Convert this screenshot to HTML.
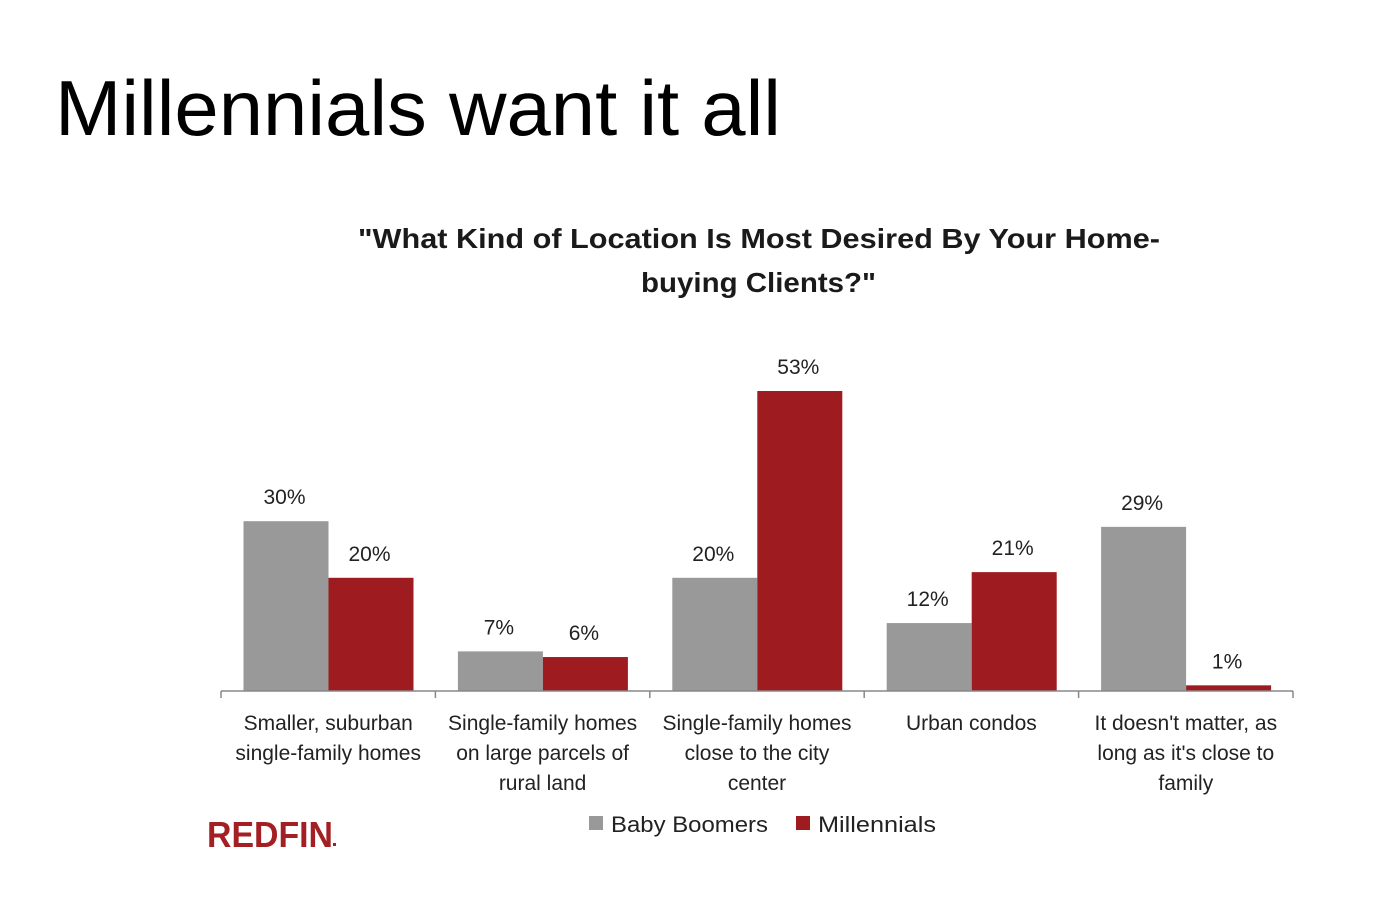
<!DOCTYPE html>
<html><head><meta charset="utf-8"><style>
body{margin:0;background:#fff;width:1391px;height:910px;overflow:hidden;font-family:"Liberation Sans",sans-serif}
svg{position:absolute;left:0;top:0}
</style></head><body>
<svg id="c" width="1391" height="910">
<text x="55" y="135" font-size="78" fill="#000" textLength="726" lengthAdjust="spacingAndGlyphs">Millennials want it all</text>
<text x="358" y="248" font-size="28" font-weight="bold" fill="#1a1a1a" textLength="802" lengthAdjust="spacingAndGlyphs">"What Kind of Location Is Most Desired By Your Home-</text>
<text x="641" y="292" font-size="28" font-weight="bold" fill="#1a1a1a" textLength="235" lengthAdjust="spacingAndGlyphs">buying Clients?"</text>
<g id="bars"></g>
<line x1="221" y1="691" x2="1293" y2="691" stroke="#888" stroke-width="1.5"/>
<rect x="589" y="816" width="14" height="14" fill="#999"/>
<text x="611" y="832" font-size="22" fill="#222" textLength="157" lengthAdjust="spacingAndGlyphs">Baby Boomers</text>
<rect x="796" y="816" width="14" height="14" fill="#9e1b20"/>
<text x="818" y="832" font-size="22" fill="#222" textLength="118" lengthAdjust="spacingAndGlyphs">Millennials</text>
<text x="207" y="847" font-size="36" font-weight="bold" fill="#a31f24" textLength="126" lengthAdjust="spacingAndGlyphs">REDFIN</text>
<rect x="333" y="843" width="3" height="3" fill="#a31f24"/>
</svg>
<script>
const categories=[["Smaller, suburban","single-family homes"],["Single-family homes","on large parcels of","rural land"],["Single-family homes","close to the city","center"],["Urban condos"],["It doesn't matter, as","long as it's close to","family"]];
const boomers=[30,7,20,12,29];
const millennials=[20,6,53,21,1];
const NS="http://www.w3.org/2000/svg";
const g=document.getElementById('bars');
const x0=221,cw=(1293-221)/5,base=691,ppu=300/53;
function y(v){return base-v*ppu;}
function mk(tag,attrs){const e=document.createElementNS(NS,tag);for(const k in attrs)e.setAttribute(k,attrs[k]);g.appendChild(e);return e;}
for(let i=0;i<=5;i++){
  const t=mk('line',{x1:x0+i*cw,x2:x0+i*cw,y1:base,y2:base+7,stroke:'#888','stroke-width':1.5});
  
  
}
categories.forEach((lines,i)=>{
  const cx=x0+i*cw;
  [[boomers[i],'#999',22.5,'bar-boomers'],[millennials[i],'#9e1b20',107.5,'bar-millennials']].forEach(([v,col,off,nm])=>{
    const r=mk('rect',{x:cx+off,y:y(v),width:85,height:base-y(v),fill:col});
    
    
    const l=mk('text',{x:cx+off+41,y:y(v)-17,'font-size':21,'text-anchor':'middle',fill:'#222'});
    l.textContent=v+'%';
    
    
  });
  lines.forEach((s,j)=>{
    const t=mk('text',{x:cx+cw/2,y:730+j*30,'font-size':21,'text-anchor':'middle',fill:'#222'});
    t.textContent=s;
    
    
  });
});
</script>
</body></html>
